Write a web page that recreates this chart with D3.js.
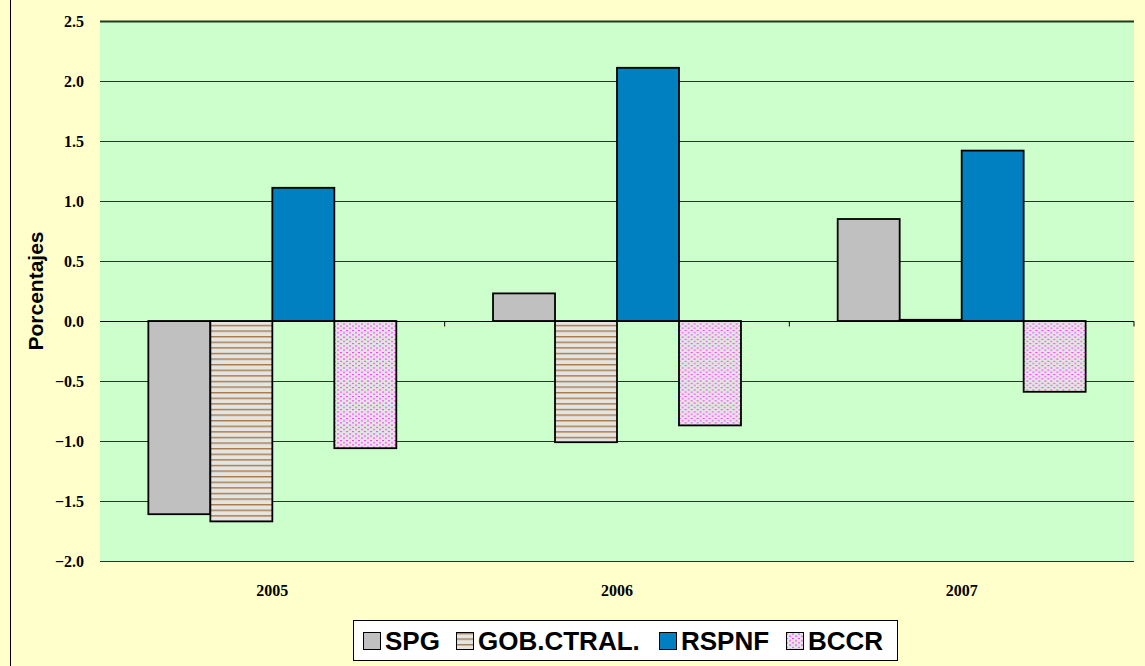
<!DOCTYPE html>
<html>
<head>
<meta charset="utf-8">
<script src="https://cdn.jsdelivr.net/npm/d3@7"></script>
<style>
  body { margin: 0; background: #FFFFCC; }
  svg { display: block; }
  .tick-txt { font-family: "Liberation Serif", "Times New Roman", serif; font-weight: bold; font-size: 16px; }
</style>
</head>
<body>
<div id="chart"></div>
<script>
// chart data
var years = ['2005', '2006', '2007'];
var seriesNames = ['SPG', 'GOB.CTRAL.', 'RSPNF', 'BCCR'];
var spg = [-1.61, 0.23, 0.85];
var gobCtral = [-1.67, -1.01, 0.01];
var rspnf = [1.11, 2.11, 1.42];
var bccr = [-1.06, -0.87, -0.59];
var yTicks = [2.5, 2.0, 1.5, 1.0, 0.5, 0.0, -0.5, -1.0, -1.5, -2.0];

var W = 1145, H = 666;
var mLeft = 100, mRight = 1134, mTop = 21, mBottom = 561;

var svg = d3.select('#chart').append('svg').attr('width', W).attr('height', H);
var defs = svg.append('defs');

// stripes for GOB.CTRAL.
var p1 = defs.append('pattern').attr('id', 'stripes').attr('patternUnits', 'userSpaceOnUse')
    .attr('width', 8).attr('height', 5.6);
p1.append('rect').attr('width', 8).attr('height', 5.6).attr('fill', '#E4E4E0');
p1.append('rect').attr('y', 0).attr('width', 8).attr('height', 1.4).attr('fill', '#A57A50');

// dots for BCCR
var p2 = defs.append('pattern').attr('id', 'dots').attr('patternUnits', 'userSpaceOnUse')
    .attr('width', 6).attr('height', 4.4);
p2.append('rect').attr('width', 6).attr('height', 4.4).attr('fill', '#E2E6E2');
p2.append('rect').attr('x', 0).attr('y', 0).attr('width', 2).attr('height', 1).attr('fill', '#FF33FF');
p2.append('rect').attr('x', 3).attr('y', 2.2).attr('width', 2).attr('height', 1).attr('fill', '#FF33FF');

var fills = ['#C0C0C0', 'url(#stripes)', '#0080C0', 'url(#dots)'];
var values = [spg, gobCtral, rspnf, bccr];

// outer border (only the left side is visible)
svg.append('rect').attr('x', 10.5).attr('y', -5).attr('width', W + 10).attr('height', H + 10)
    .attr('fill', '#FFFFCC').attr('stroke', '#000').attr('stroke-width', 1);

var x0 = d3.scaleBand().domain(years).range([mLeft, mRight]).paddingInner(0).paddingOuter(0);
var x1 = d3.scaleBand().domain(seriesNames).range([0, x0.bandwidth()]).paddingOuter(0.78).paddingInner(0);
var y = d3.scaleLinear().domain([-2, 2.5]).range([mBottom, mTop]);

// plot area
svg.append('rect').attr('x', mLeft).attr('y', mTop).attr('width', mRight - mLeft).attr('height', mBottom - mTop)
    .attr('fill', '#CCFFCC');

// gridlines
svg.append('g').selectAll('line').data(yTicks).join('line')
    .attr('x1', mLeft).attr('x2', mRight)
    .attr('y1', function (d) { return Math.round(y(d)) + 0.5; })
    .attr('y2', function (d) { return Math.round(y(d)) + 0.5; })
    .attr('stroke', '#1f3a1f').attr('stroke-width', function (d) { return d === 2.5 ? 2 : 1; });

// y labels
svg.append('g').selectAll('text').data(yTicks).join('text')
    .attr('class', 'tick-txt')
    .attr('x', 84).attr('y', function (d) { return y(d); })
    .attr('dy', '0.35em').attr('text-anchor', 'end')
    .text(function (d) { return d3.format('.1f')(d); });

// bars
var groups = svg.append('g').selectAll('g').data(years).join('g')
    .attr('transform', function (d) { return 'translate(' + x0(d) + ',0)'; });

groups.selectAll('rect').data(function (d, i) {
    return seriesNames.map(function (s, j) { return {s: s, v: values[j][i], j: j}; });
}).join('rect')
    .attr('x', function (d) { return x1(d.s); })
    .attr('y', function (d) { return y(Math.max(0, d.v)); })
    .attr('width', x1.bandwidth())
    .attr('height', function (d) { return Math.abs(y(d.v) - y(0)); })
    .attr('fill', function (d) { return fills[d.j]; })
    .attr('stroke', '#000').attr('stroke-width', 1.8);

// category axis on zero line
var xAxis = svg.append('g').attr('transform', 'translate(0,' + (Math.round(y(0)) + 0.5) + ')');
xAxis.append('line').attr('x1', mLeft).attr('x2', mRight).attr('stroke', '#000');
xAxis.selectAll('.tk').data(years).join('line').attr('class', 'tk')
    .attr('x1', function (d) { return x0(d) + x0.bandwidth(); })
    .attr('x2', function (d) { return x0(d) + x0.bandwidth(); })
    .attr('y1', 0).attr('y2', 5).attr('stroke', '#000');

svg.append('g').selectAll('text').data(years).join('text')
    .attr('class', 'tick-txt')
    .attr('x', function (d) { return x0(d) + x0.bandwidth() / 2; })
    .attr('y', 596).attr('text-anchor', 'middle')
    .text(function (d) { return d; });

// y title
svg.append('text').attr('transform', 'translate(43,291) rotate(-90)')
    .attr('text-anchor', 'middle')
    .attr('font-family', 'Liberation Sans, Arial, sans-serif').attr('font-weight', 'bold').attr('font-size', 21)
    .text('Porcentajes');

// legend
var lg = svg.append('g');
lg.append('rect').attr('x', 353.5).attr('y', 620.5).attr('width', 544).attr('height', 40)
    .attr('fill', '#fff').attr('stroke', '#000');
var legX = [363, 456, 659, 786];
seriesNames.forEach(function (s, i) {
    lg.append('rect').attr('x', legX[i] + 0.5).attr('y', 632.5).attr('width', 17).attr('height', 17)
        .attr('fill', fills[i]).attr('stroke', '#000').attr('stroke-width', 1);
    lg.append('text').attr('x', legX[i] + 22).attr('y', 650)
        .attr('font-family', 'Liberation Sans, Arial, sans-serif').attr('font-weight', 'bold').attr('font-size', 26)
        .text(s);
});
</script>
</body>
</html>
